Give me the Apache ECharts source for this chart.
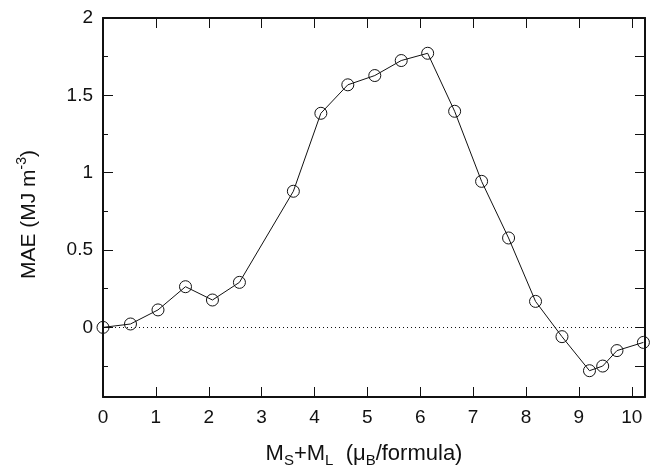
<!DOCTYPE html>
<html>
<head>
<meta charset="utf-8">
<script src="https://cdn.jsdelivr.net/npm/echarts@6/dist/echarts.min.js"></script>
<style>
  html, body { margin: 0; padding: 0; background: #fff; }
  #chart { width: 655px; height: 467px; }
</style>
</head>
<body>
<div id="chart"></div>
<script>
const moment = [0, 0.52, 1.04, 1.56, 2.07, 2.58, 3.6, 4.12, 4.63, 5.14, 5.64, 6.14, 6.65, 7.16, 7.67, 8.18, 8.68, 9.2, 9.45, 9.72, 10.22]
const mae = [0, 0.022, 0.113, 0.263, 0.177, 0.291, 0.88, 1.384, 1.568, 1.628, 1.725, 1.772, 1.397, 0.944, 0.578, 0.168, -0.06, -0.28, -0.25, -0.15, -0.097]
const xTicks = [0, 1, 2, 3, 4, 5, 6, 7, 8, 9, 10]
const yMajor = [0, 0.5, 1, 1.5, 2]
const yMinor = [-0.25, 0.25, 0.75, 1.25, 1.75]
const yAll = [-0.25, 0, 0.25, 0.5, 0.75, 1, 1.25, 1.5, 1.75, 2]

const font = 'Liberation Sans, Arial, Helvetica, sans-serif'
const ink = '#111'

const chart = echarts.init(document.getElementById('chart'))

const frame = { show: true, onZero: false, lineStyle: { color: ink, width: 2 } }

chart.setOption({
    animation: false,
    grid: { left: 103, top: 18, right: 10, bottom: 70, containLabel: false, outerBoundsMode: 'none' },
    xAxis: [
        {
            type: 'value', min: 0, max: 10.25, position: 'bottom',
            axisLine: frame,
            axisTick: { show: true, inside: true, length: 10, customValues: xTicks, lineStyle: { color: ink, width: 1 } },
            axisLabel: { customValues: xTicks, margin: 11, color: ink, fontSize: 19, fontFamily: font },
            splitLine: { show: false },
            name: '{n|M}{s|S}{n|+M}{s|L}{n|  (μ}{s|B}{n|/formula)}',
            nameLocation: 'middle',
            nameGap: 43,
            nameTextStyle: {
                padding: [0, 20, 0, 0],
                rich: {
                    n: { fontSize: 22, fontFamily: font, color: ink, lineHeight: 28 },
                    s: { fontSize: 15, fontFamily: font, color: ink, lineHeight: 10, verticalAlign: 'bottom' }
                }
            }
        },
        {
            type: 'value', min: 0, max: 10.25, position: 'top',
            axisLine: frame,
            axisTick: { show: true, inside: true, length: 10, customValues: xTicks, lineStyle: { color: ink, width: 1 } },
            axisLabel: { show: false },
            splitLine: { show: false }
        }
    ],
    yAxis: [
        {
            type: 'value', min: -0.45, max: 2, position: 'left',
            axisLine: frame,
            axisTick: { show: true, inside: true, length: 10, customValues: yMajor, lineStyle: { color: ink, width: 1 } },
            axisLabel: { customValues: yMajor, margin: 10, color: ink, fontSize: 19, fontFamily: font },
            splitLine: { show: false },
            name: '{n|MAE (MJ m}{p|-3}{n|)}',
            nameLocation: 'middle',
            nameRotate: 90,
            nameGap: 60,
            nameTextStyle: {
                padding: [0, 14, 0, 0],
                rich: {
                    n: { fontSize: 21, fontFamily: font, color: ink, lineHeight: 28 },
                    p: { fontSize: 14, fontFamily: font, color: ink, lineHeight: 10, verticalAlign: 'top' }
                }
            }
        },
        {
            type: 'value', min: -0.45, max: 2, position: 'right',
            axisLine: frame,
            axisTick: { show: true, inside: true, length: 10, customValues: yAll, lineStyle: { color: ink, width: 1 } },
            axisLabel: { show: false },
            splitLine: { show: false }
        },
        {
            type: 'value', min: -0.45, max: 2, position: 'left',
            axisLine: { show: false, onZero: false },
            axisTick: { show: true, inside: true, length: 5, customValues: yMinor, lineStyle: { color: ink, width: 1 } },
            axisLabel: { show: false },
            splitLine: { show: false }
        }
    ],
    series: [
        {
            type: 'line',
            data: moment.map((x, i) => [x, mae[i]]),
            symbol: 'circle',
            symbolSize: 12,
            clip: false,
            itemStyle: { color: 'rgba(0,0,0,0)', borderColor: ink, borderWidth: 1 },
            lineStyle: { color: ink, width: 1 },
            markLine: {
                silent: true,
                symbol: 'none',
                label: { show: false },
                lineStyle: { color: ink, width: 1, type: [1, 3] },
                data: [{ yAxis: 0 }]
            },
            z: 3
        }
    ]
})
</script>
</body>
</html>
